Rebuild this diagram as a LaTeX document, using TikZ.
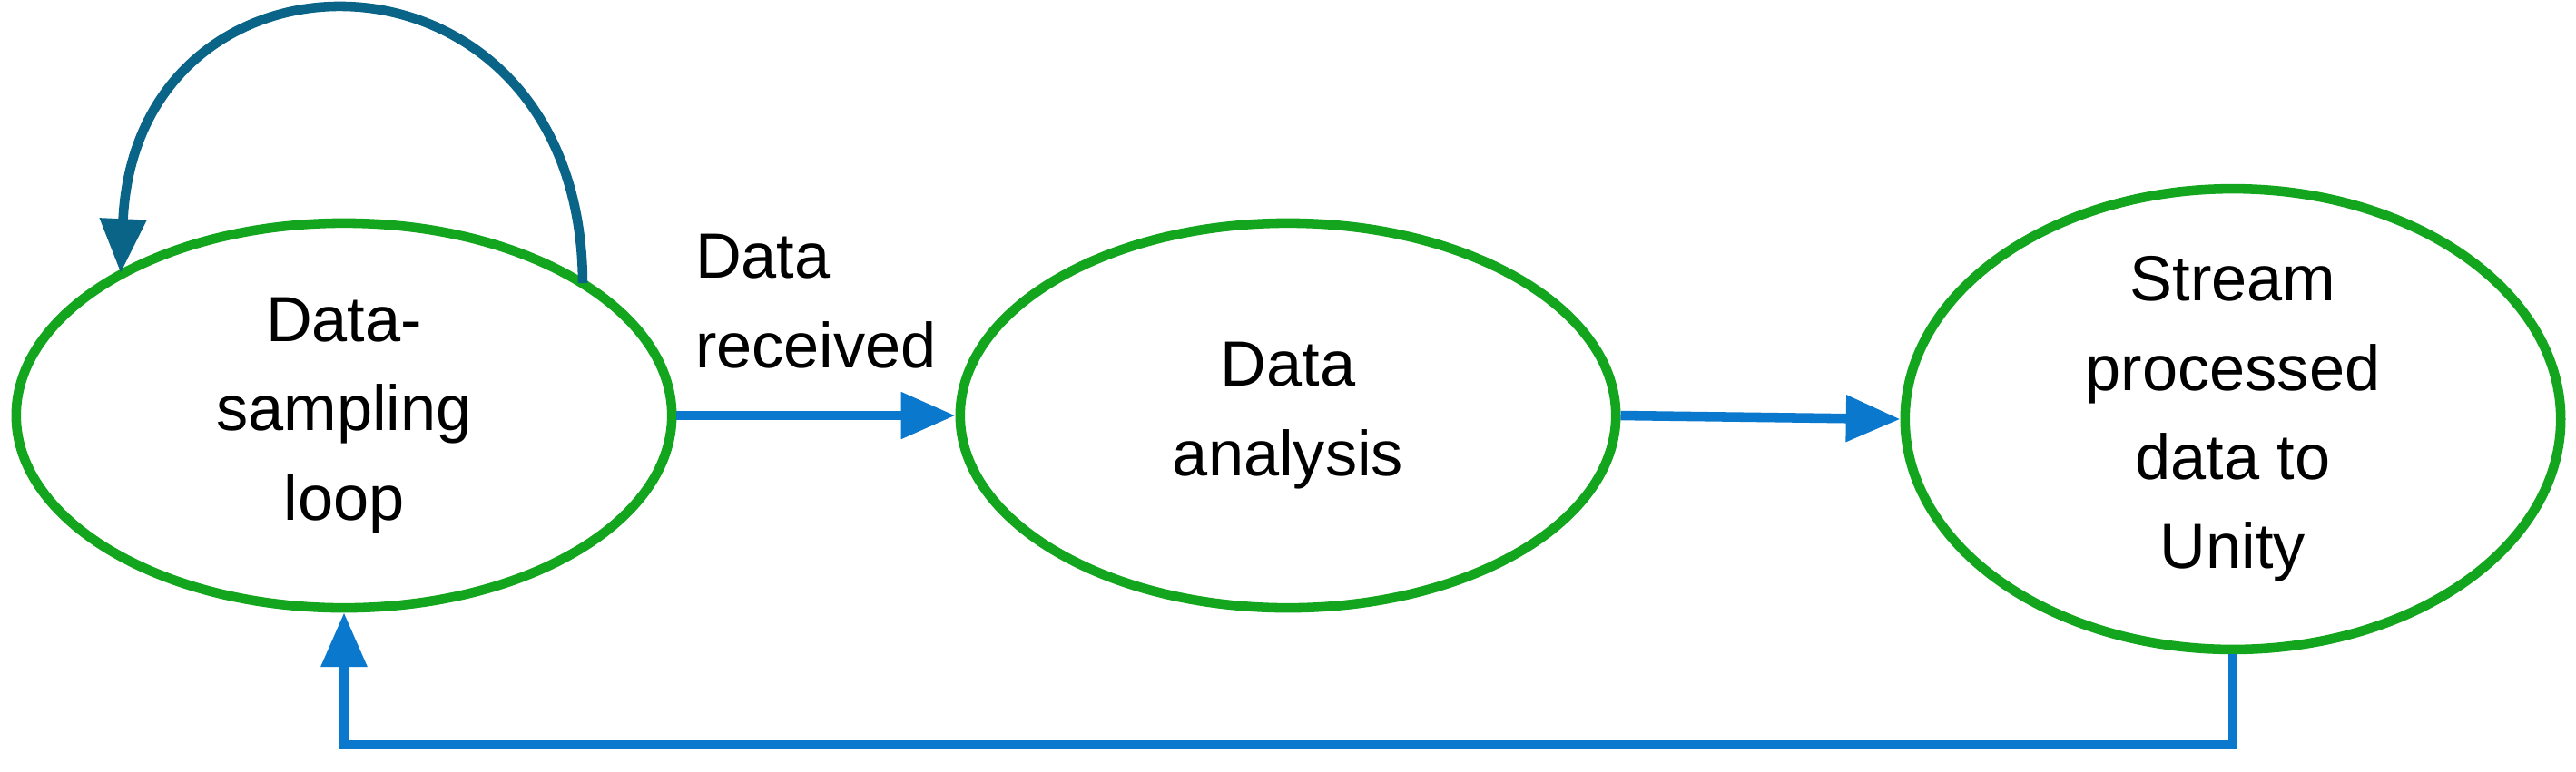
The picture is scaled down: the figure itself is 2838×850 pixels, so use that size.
\documentclass[tikz,border=0pt]{standalone}
\usepackage{fontspec}
\setmainfont{Liberation Sans}
\usetikzlibrary{arrows.meta, positioning, shapes.geometric}
\definecolor{stategreen}{RGB}{20,165,30}
\definecolor{flowblue}{RGB}{10,120,205}
\definecolor{loopteal}{RGB}{10,100,135}
\begin{document}
\begin{tikzpicture}[x=0.01cm, y=-0.01cm,
        state/.style={ellipse, draw=stategreen, line width=3pt, minimum width=7.22cm, minimum height=4.24cm, inner sep=0pt, align=center, font=\fontsize{20}{28}\selectfont},
        flow/.style={-{Triangle[length=17pt,width=14pt]}, line width=3pt, flowblue},
        selfloop/.style={-{Triangle[length=17pt,width=14pt]}, line width=3pt, loopteal}
    ]
    \useasboundingbox (0,0) rectangle (2838,850);

    \node[state] (sample) at (379, 458) {Data-\\sampling\\loop};
    \node[state] (analysis) at (1419, 458) {Data\\analysis};
    \node[state] (stream) at (2460, 462) {Stream\\processed\\data to\\Unity};
    \coordinate (loopout) at (642, 312);
    \coordinate (loopin) at (133, 301);
    \coordinate (back) at (379, 821);

    \draw[selfloop] (loopout) .. controls (640, -80) and (150, -85) .. (loopin);
    \draw[flow] (sample.east) -- (analysis.west)
        node[midway, above=10pt, align=left, font=\fontsize{20}{28}\selectfont, black] {Data\\received};
    \draw[flow] (analysis.east) -- (stream.west);
    \draw[flow, line width=2.6pt] (stream.south) |- (back) -- (sample.south);
\end{tikzpicture}
\end{document}
